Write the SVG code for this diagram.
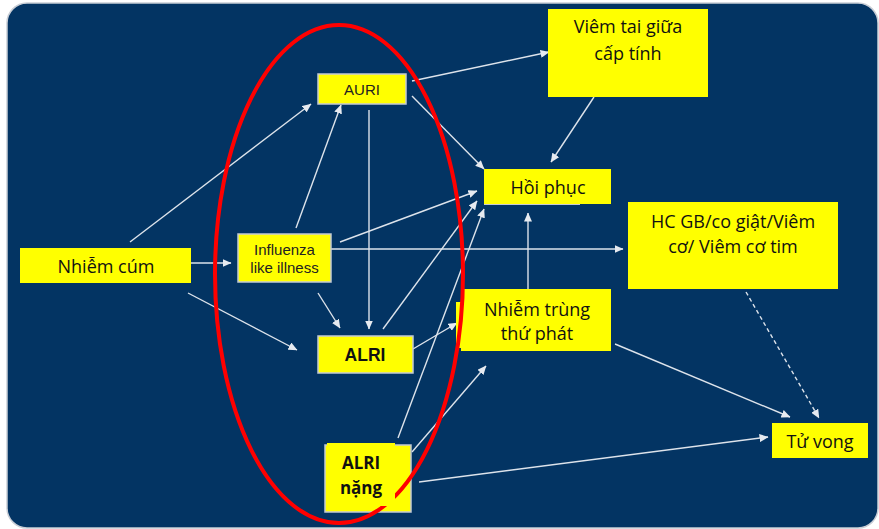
<svg xmlns="http://www.w3.org/2000/svg" width="879" height="529" viewBox="0 0 879 529">
<defs>
<marker id="ah" markerUnits="userSpaceOnUse" markerWidth="9" markerHeight="8" refX="8.5" refY="4" orient="auto">
<path d="M0,0 L9,4 L0,8 z" fill="#e6eaf0"/>
</marker>
<style>
.bg{fill:#033463;stroke:#c9ced6;stroke-width:1.5}
.box{fill:#ffff00}
.bbox{fill:#ffff00;stroke:#c4cad4;stroke-width:1.5}
.c{stroke:#dde3eb;stroke-width:1.4;fill:none;marker-end:url(#ah)}
.d{stroke-dasharray:4 3}
.cal{font-family:"Open Sans","Noto Sans",sans-serif;font-size:18px;fill:#111;text-anchor:middle}
.ar{font-family:"Liberation Sans",Arial,sans-serif;font-size:15px;fill:#222;text-anchor:middle}
.arb{font-family:"Liberation Sans",Arial,sans-serif;font-size:17.5px;font-weight:bold;fill:#111;text-anchor:middle}
.calb{font-family:"Open Sans","Noto Sans",sans-serif;font-size:17px;font-weight:bold;fill:#111;text-anchor:middle}
</style>
</defs>
<rect class="bg" x="7" y="3" width="871" height="525" rx="20"/>
<g id="connectors">
<line class="c" x1="130" y1="242" x2="311" y2="104"/>
<line class="c" x1="191" y1="263" x2="231" y2="263"/>
<line class="c" x1="188" y1="293" x2="297" y2="350"/>
<line class="c" x1="296" y1="228" x2="341" y2="105"/>
<line class="c" x1="369" y1="110" x2="369" y2="329"/>
<line class="c" x1="318" y1="293" x2="340" y2="328"/>
<line class="c" x1="340" y1="242" x2="477" y2="191"/>
<line class="c" x1="331" y1="249" x2="623" y2="249"/>
<line class="c" x1="412" y1="81" x2="549" y2="52"/>
<line class="c" x1="412" y1="96" x2="484" y2="169"/>
<line class="c" x1="594" y1="97" x2="551" y2="162"/>
<line class="c" x1="383" y1="329" x2="477" y2="201"/>
<line class="c" x1="398" y1="438" x2="484" y2="209"/>
<line class="c" x1="528" y1="289" x2="528" y2="213"/>
<line class="c" x1="413" y1="349" x2="457" y2="323"/>
<line class="c" x1="412" y1="452" x2="486" y2="366"/>
<line class="c" x1="615" y1="344" x2="790" y2="417"/>
<line class="c d" x1="746" y1="292" x2="819" y2="418"/>
<line class="c" x1="419" y1="482" x2="768" y2="437"/>
</g>
<g id="nhiem-cum">
<rect class="box" x="20" y="248" width="171" height="35"/>
<text class="cal" x="106" y="272.5">Nhiễm cúm</text>
</g>
<g id="auri">
<rect class="bbox" x="318" y="74" width="88" height="30"/>
<text class="ar" x="362" y="95">AURI</text>
</g>
<g id="ili">
<rect class="bbox" x="238" y="234" width="93" height="48"/>
<text class="ar" x="284.5" y="255">Influenza</text>
<text class="ar" x="284.5" y="273">like illness</text>
</g>
<g id="alri">
<rect class="bbox" x="318" y="336" width="95" height="37"/>
<text class="arb" x="365" y="361">ALRI</text>
</g>
<g id="viem-tai">
<rect class="box" x="548" y="9" width="160" height="88"/>
<text class="cal" x="628" y="33">Viêm tai giữa</text>
<text class="cal" x="628" y="60">cấp tính</text>
</g>
<g id="hoi-phuc">
<rect class="box" x="484" y="169" width="127" height="35"/>
<line x1="484" y1="204.5" x2="580" y2="204.5" stroke="#c4cad4" stroke-width="1"/>
<text class="cal" x="548" y="194">Hồi phục</text>
</g>
<g id="hcgb">
<rect class="box" x="628" y="202" width="210" height="87"/>
<text class="cal" x="733" y="228">HC GB/co giật/Viêm</text>
<text class="cal" x="733" y="253">cơ/ Viêm cơ tim</text>
</g>
<g id="nhiem-trung">
<rect class="box" x="456" y="302" width="8" height="46"/>
<rect class="box" x="461" y="289" width="150" height="62"/>
<text class="cal" x="537" y="316">Nhiễm trùng</text>
<text class="cal" x="537" y="340">thứ phát</text>
</g>
<g id="tu-vong">
<rect class="box" x="772" y="423" width="96" height="35"/>
<text class="cal" x="820" y="448">Tử vong</text>
</g>
<g id="alri-nang-base">
<rect class="bbox" x="325" y="445" width="86" height="67"/>
</g>
<ellipse id="red-ellipse" cx="339" cy="274" rx="124" ry="249" fill="none" stroke="#ff0000" stroke-width="4"/>
<g id="alri-nang">
<rect class="box" x="327" y="443" width="68" height="63"/>
<text class="calb" x="361" y="469">ALRI</text>
<text class="calb" x="361" y="494">nặng</text>
</g>
</svg>
